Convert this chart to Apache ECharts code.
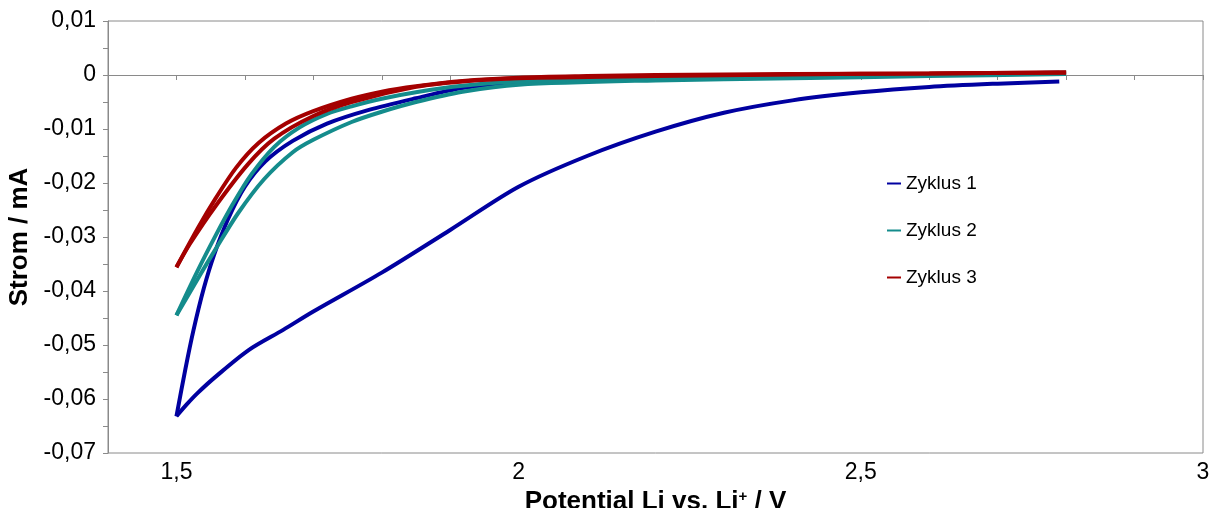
<!DOCTYPE html>
<html>
<head>
<meta charset="utf-8">
<script src="https://cdn.jsdelivr.net/npm/echarts@6/dist/echarts.min.js"></script>
<style>
html,body{margin:0;padding:0;background:#fff;}
#chart{width:1214px;height:508px;}
</style>
</head>
<body>
<div id="chart"></div>
<script>
// ---- Data ----
const seriesNames = ['Zyklus 1', 'Zyklus 2', 'Zyklus 3'];

// Zyklus 1 – cathodic sweep (2.79 V -> 1.5 V)
const cycle1DownPotential = [2.79, 2.70, 2.60, 2.50, 2.40, 2.30, 2.20, 2.10, 2.00, 1.90, 1.80, 1.70, 1.656, 1.606, 1.557, 1.53, 1.515, 1.50];
const cycle1DownCurrent   = [-0.0012, -0.0016, -0.0022, -0.0032, -0.0047, -0.0070, -0.0105, -0.0150, -0.0207, -0.0287, -0.0366, -0.0438, -0.0472, -0.0509, -0.0559, -0.0590, -0.0610, -0.0632];
// Zyklus 1 – anodic sweep (1.5 V -> 2.8 V)
const cycle1UpPotential = [1.50, 1.513, 1.525, 1.54, 1.555, 1.575, 1.60, 1.63, 1.67, 1.72, 1.78, 1.85, 1.918, 2.00, 2.10, 2.20, 2.30, 2.42, 2.60, 2.79];
const cycle1UpCurrent   = [-0.0632, -0.0545, -0.0472, -0.0395, -0.0333, -0.0268, -0.0207, -0.0160, -0.0122, -0.0090, -0.0065, -0.0043, -0.0024, -0.0014, -0.0009, -0.0006, -0.0003, 0.0002, 0.0002, 0.0004];

// Zyklus 2
const cycle2DownPotential = [2.80, 2.60, 2.40, 2.20, 2.00, 1.918, 1.85, 1.80, 1.756, 1.70, 1.67, 1.628, 1.59, 1.557, 1.53, 1.50];
const cycle2DownCurrent   = [0.0002, -0.0002, -0.0006, -0.0010, -0.0018, -0.0031, -0.0050, -0.0068, -0.0087, -0.0120, -0.0143, -0.0193, -0.0256, -0.0323, -0.0380, -0.0445];
const cycle2UpPotential = [1.50, 1.53, 1.557, 1.582, 1.609, 1.643, 1.68, 1.72, 1.756, 1.80, 1.85, 1.918, 2.00, 2.20, 2.40, 2.60, 2.80];
const cycle2UpCurrent   = [-0.0445, -0.0365, -0.0298, -0.0240, -0.0185, -0.0133, -0.0097, -0.0072, -0.0058, -0.0044, -0.0032, -0.0020, -0.0012, -0.0005, -0.0001, 0.0002, 0.0004];

// Zyklus 3
const cycle3DownPotential = [2.80, 2.60, 2.40, 2.20, 2.00, 1.918, 1.85, 1.756, 1.70, 1.643, 1.604, 1.557, 1.52, 1.50];
const cycle3DownCurrent   = [0.0004, 0.0003, 0.0001, -0.0002, -0.0006, -0.0012, -0.0022, -0.0050, -0.0076, -0.0118, -0.0166, -0.0243, -0.0312, -0.0356];
const cycle3UpPotential = [1.50, 1.532, 1.557, 1.587, 1.62, 1.66, 1.70, 1.756, 1.80, 1.85, 1.918, 2.00, 2.10, 2.20, 2.40, 2.60, 2.80];
const cycle3UpCurrent   = [-0.0356, -0.0282, -0.0229, -0.0172, -0.0126, -0.0090, -0.0067, -0.0044, -0.0031, -0.0021, -0.0011, -0.0005, -0.0002, 0.0000, 0.0002, 0.0003, 0.0005];

const seriesColors = ['#0000a0', '#148c8c', '#a40000'];

function zip(xs, ys) { return xs.map((x, i) => [x, ys[i]]); }

const branches = [
  { name: seriesNames[0], color: seriesColors[0], data: zip(cycle1DownPotential, cycle1DownCurrent) },
  { name: seriesNames[0], color: seriesColors[0], data: zip(cycle1UpPotential, cycle1UpCurrent) },
  { name: seriesNames[1], color: seriesColors[1], data: zip(cycle2DownPotential, cycle2DownCurrent) },
  { name: seriesNames[1], color: seriesColors[1], data: zip(cycle2UpPotential, cycle2UpCurrent) },
  { name: seriesNames[2], color: seriesColors[2], data: zip(cycle3DownPotential, cycle3DownCurrent) },
  { name: seriesNames[2], color: seriesColors[2], data: zip(cycle3UpPotential, cycle3UpCurrent) }
];

const FONT = '"Liberation Sans", Arial, sans-serif';

const chart = echarts.init(document.getElementById('chart'), null, { renderer: 'canvas' });
chart.setOption({
  animation: false,
  backgroundColor: '#ffffff',
  textStyle: { fontFamily: FONT },
  grid: {
    left: 108, right: 11, top: 21, bottom: 55,
    containLabel: false,
    outerBoundsMode: 'none',
    show: true, borderColor: '#8a8a8a', borderWidth: 1, backgroundColor: 'transparent'
  },
  legend: {
    data: seriesNames,
    orient: 'vertical',
    left: 882, top: 169,
    itemGap: 28,
    icon: 'rect',
    itemWidth: 14, itemHeight: 2,
    textStyle: { fontFamily: FONT, fontSize: 19, color: '#000' }
  },
  xAxis: {
    type: 'value',
    min: 1.4, max: 3.0, interval: 0.1,
    name: 'Potential Li vs. Li{sup|+} / V',
    nameLocation: 'middle',
    nameGap: 30,
    nameTextStyle: {
      fontFamily: FONT, fontSize: 26, fontWeight: 'bold', color: '#000',
      rich: { sup: { fontSize: 15, fontWeight: 'bold', fontFamily: FONT, color: '#000', verticalAlign: 'top', padding: [0, 0, 10, 0] } }
    },
    axisLine: { show: true, lineStyle: { color: '#8a8a8a', width: 1 } },
    axisTick: { show: true, inside: false, length: 5, lineStyle: { color: '#8a8a8a' } },
    splitLine: { show: false },
    axisLabel: {
      fontFamily: FONT, fontSize: 23, color: '#000', margin: 8,
      formatter: function (v) {
        const t = Math.round(v * 10);
        if (t % 5 !== 0) return '';
        return String(t / 10).replace('.', ',');
      }
    }
  },
  yAxis: {
    type: 'value',
    min: -0.07, max: 0.01, interval: 0.005,
    name: 'Strom / mA',
    nameLocation: 'middle',
    nameGap: 72,
    nameTextStyle: { fontFamily: FONT, fontSize: 26, fontWeight: 'bold', color: '#000' },
    axisLine: { show: true, lineStyle: { color: '#8a8a8a', width: 1 } },
    axisTick: { show: true, inside: false, length: 5, lineStyle: { color: '#8a8a8a' } },
    splitLine: { show: false },
    axisLabel: {
      fontFamily: FONT, fontSize: 23, color: '#000', margin: 12,
      formatter: function (v) {
        const t = Math.round(v * 1000);
        if (t % 10 !== 0) return '';
        if (t === 0) return '0';
        return (t / 1000).toFixed(2).replace('.', ',');
      }
    }
  },
  series: branches.map(b => ({
    type: 'line',
    name: b.name,
    data: b.data,
    showSymbol: false,
    symbol: 'none',
    smooth: 0.3,
    color: b.color,
    lineStyle: { color: b.color, width: 4 },
    emphasis: { disabled: true }
  }))
});
</script>
</body>
</html>
